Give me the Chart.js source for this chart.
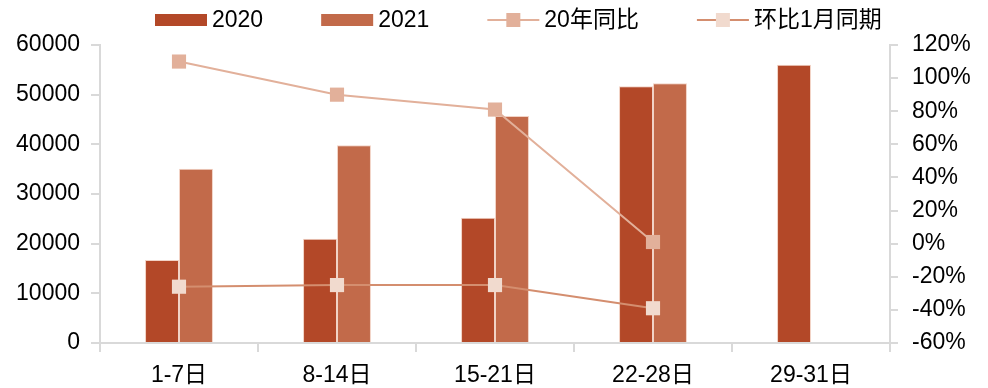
<!DOCTYPE html>
<html>
<head>
<meta charset="utf-8">
<script src="https://cdn.jsdelivr.net/npm/chart.js@4"></script>
<style>
  html, body { margin: 0; padding: 0; background: #fff; }
  #wrap { width: 988px; height: 388px; }
</style>
</head>
<body>
<div id="wrap"><canvas id="grafic"></canvas></div>
<script>
// Dades
const periodes = ['1-7日', '8-14日', '15-21日', '22-28日', '29-31日'];
const vendes2020 = [16700, 21000, 25200, 51700, 56000];
const vendes2021 = [35100, 39800, 45700, 52300, null];
const anualPct = [110, 90, 81, 1, null];       // 20年同比
const mensualPct = [-26, -25, -25, -39, null]; // 环比1月同期

const FONT = "'Liberation Sans', 'Noto Sans CJK SC', Arial, sans-serif";
const colors = {
  b2020: '#B34828',
  b2021: '#C26A4A',
  l1: '#E2B09A',
  l2: '#D48E6F',
  m2: '#F1DACE',
  axis: '#D9D9D9'
};

// Llegenda dibuixada a mà (barra / línia amb marcador)
const llegenda = {
  id: 'llegenda',
  afterDraw(chart) {
    const ctx = chart.ctx;
    const items = [
      { text: '2020', kind: 'bar', color: colors.b2020 },
      { text: '2021', kind: 'bar', color: colors.b2021 },
      { text: '20年同比', kind: 'line', color: colors.l1, marker: colors.l1 },
      { text: '环比1月同期', kind: 'line', color: colors.l2, marker: colors.m2 }
    ];
    const y = 20;
    let x = 155;
    ctx.save();
    ctx.font = '23px ' + FONT;
    ctx.textBaseline = 'middle';
    ctx.fillStyle = '#000';
    items.forEach(it => {
      if (it.kind === 'bar') {
        ctx.fillStyle = it.color;
        ctx.fillRect(x, y - 6, 52, 12);
      } else {
        ctx.strokeStyle = it.color;
        ctx.lineWidth = 2;
        ctx.beginPath();
        ctx.moveTo(x, y);
        ctx.lineTo(x + 52, y);
        ctx.stroke();
        ctx.fillStyle = it.marker;
        ctx.fillRect(x + 26 - 7, y - 7, 14, 14);
      }
      ctx.fillStyle = '#000';
      ctx.fillText(it.text, x + 57, y + 1);
      x += 57 + ctx.measureText(it.text).width + 58;
    });
    ctx.restore();
  }
};

const ctx = document.getElementById('grafic');
const grafic = new Chart(ctx, {
  type: 'bar',
  data: {
    labels: periodes,
    datasets: [
      {
        type: 'line',
        label: '20年同比',
        data: anualPct,
        yAxisID: 'y1',
        borderColor: colors.l1,
        borderWidth: 2,
        pointStyle: 'rect',
        pointRadius: 10,
        pointBorderWidth: 0,
        pointBackgroundColor: colors.l1,
        pointBorderColor: colors.l1,
        order: 0
      },
      {
        type: 'line',
        label: '环比1月同期',
        data: mensualPct,
        yAxisID: 'y1',
        borderColor: colors.l2,
        borderWidth: 2,
        pointStyle: 'rect',
        pointRadius: 10,
        pointBorderWidth: 0,
        pointBackgroundColor: colors.m2,
        pointBorderColor: colors.m2,
        order: 0
      },
      {
        label: '2020',
        data: vendes2020,
        yAxisID: 'y',
        backgroundColor: colors.b2020,
        borderColor: '#F2D3C6',
        borderWidth: 1,
        categoryPercentage: 0.43,
        barPercentage: 1,
        order: 1
      },
      {
        label: '2021',
        data: vendes2021,
        yAxisID: 'y',
        backgroundColor: colors.b2021,
        borderColor: '#F2D3C6',
        borderWidth: 1,
        categoryPercentage: 0.43,
        barPercentage: 1,
        order: 1
      }
    ]
  },
  options: {
    responsive: true,
    maintainAspectRatio: false,
    animation: false,
    layout: { padding: { top: 45, left: 0, right: 0, bottom: 0 } },
    plugins: {
      legend: { display: false },
      tooltip: { enabled: false }
    },
    scales: {
      x: {
        offset: true,
        grid: {
          offset: true,
          drawOnChartArea: false,
          drawTicks: true,
          tickLength: 9,
          color: colors.axis,
          lineWidth: 2
        },
        border: { color: colors.axis, width: 2 },
        ticks: { color: '#000', font: { family: FONT, size: 23 }, padding: 10, maxRotation: 0 },
        afterFit: s => { s.height = 45; }
      },
      y: {
        position: 'left',
        min: 0,
        max: 60000,
        ticks: {
          stepSize: 10000,
          color: '#000',
          font: { family: FONT, size: 23 },
          padding: 11,
          callback: v => String(v)
        },
        grid: { drawOnChartArea: false, tickLength: 9, color: colors.axis, lineWidth: 2 },
        border: { color: colors.axis, width: 2 },
        afterFit: s => { s.width = 100; }
      },
      y1: {
        position: 'right',
        min: -60,
        max: 120,
        ticks: {
          stepSize: 20,
          color: '#000',
          font: { family: FONT, size: 23 },
          padding: 14,
          callback: v => v + '%'
        },
        grid: { drawOnChartArea: false, tickLength: 8, color: colors.axis, lineWidth: 2 },
        border: { color: colors.axis, width: 2 },
        afterFit: s => { s.width = 98; }
      }
    }
  },
  plugins: [llegenda]
});
</script>
</body>
</html>
